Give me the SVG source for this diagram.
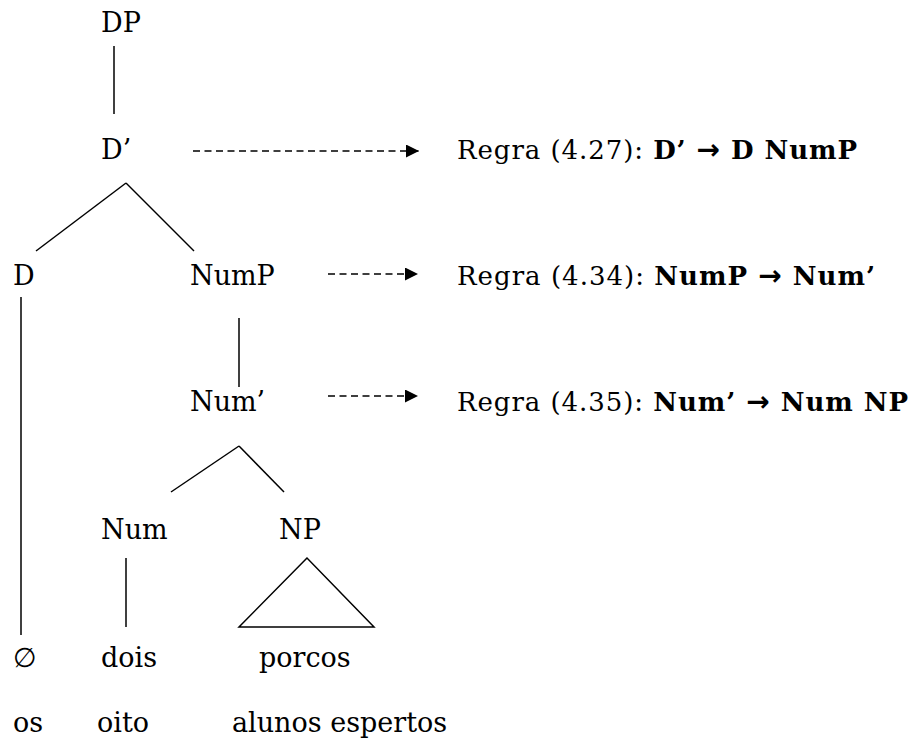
<svg xmlns="http://www.w3.org/2000/svg" width="916" height="742" viewBox="0 0 916 742">
<style>
.t{font-family:"DejaVu Serif","Liberation Serif",serif;font-size:27px;fill:#000}
.r{font-family:"DejaVu Serif","Liberation Serif",serif;font-size:26px;fill:#000}
.b{font-weight:bold}
.a{font-family:"DejaVu Sans",sans-serif;font-weight:bold;font-size:28px}
.e{stroke:#000;stroke-width:1.5;fill:none}
.d{stroke:#000;stroke-width:1.5;fill:none;stroke-dasharray:7 4.5}
</style>
<defs>
<marker id="ah" markerWidth="13" markerHeight="13" refX="13" refY="6.5" orient="auto" markerUnits="userSpaceOnUse">
<path d="M0,0 L13,6.5 L0,13 Z" fill="#000"/>
</marker>
</defs>
<rect width="916" height="742" fill="#fff"/>
<g id="connectors">
<line class="e" x1="114" y1="46" x2="114" y2="114"/>
<line class="e" x1="126" y1="183" x2="36" y2="251"/>
<line class="e" x1="126" y1="183" x2="194" y2="251"/>
<line class="e" x1="21" y1="297" x2="21" y2="635"/>
<line class="e" x1="239" y1="318" x2="239" y2="387"/>
<line class="e" x1="239" y1="446" x2="171" y2="492"/>
<line class="e" x1="239" y1="446" x2="284" y2="492"/>
<line class="e" x1="126" y1="558" x2="126" y2="627"/>
<path class="e" d="M307,558 L239,627 L374,627 Z"/>
<line class="d" x1="193" y1="151" x2="419" y2="151" marker-end="url(#ah)"/>
<line class="d" x1="328" y1="274" x2="418" y2="274" marker-end="url(#ah)"/>
<line class="d" x1="328" y1="396" x2="418" y2="396" marker-end="url(#ah)"/>
</g>
<g id="DP"><text class="t" x="101" y="32">DP</text></g>
<g id="Dbar"><text class="t" x="101" y="159">D’</text></g>
<g id="D"><text class="t" x="13" y="285">D</text></g>
<g id="NumP"><text class="t" x="190" y="285">NumP</text></g>
<g id="Numbar"><text class="t" x="190" y="411">Num’</text></g>
<g id="Num"><text class="t" x="101" y="539">Num</text></g>
<g id="NP"><text class="t" x="279" y="539">NP</text></g>
<g id="empty"><text class="t" x="13" y="667">∅</text></g>
<g id="dois"><text class="t" x="101" y="667">dois</text></g>
<g id="porcos"><text class="t" x="259" y="667">porcos</text></g>
<g id="os"><text class="t" x="13" y="732">os</text></g>
<g id="oito"><text class="t" x="97" y="732">oito</text></g>
<g id="alunos"><text class="t" x="232" y="732">alunos espertos</text></g>
<g id="rule1"><text class="r" x="457" y="159" textLength="400">Regra (4.27): <tspan class="b">D’ <tspan class="a">→</tspan> D NumP</tspan></text></g>
<g id="rule2"><text class="r" x="457" y="285" textLength="418">Regra (4.34): <tspan class="b">NumP <tspan class="a">→</tspan> Num’</tspan></text></g>
<g id="rule3"><text class="r" x="457" y="411" textLength="451">Regra (4.35): <tspan class="b">Num’ <tspan class="a">→</tspan> Num NP</tspan></text></g>
</svg>
